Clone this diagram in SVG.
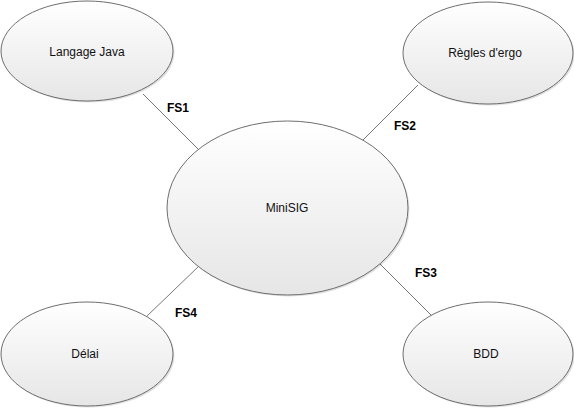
<svg xmlns="http://www.w3.org/2000/svg" width="574" height="409" viewBox="0 0 574 409">
<defs>
<linearGradient id="g" x1="0" y1="0" x2="0" y2="1">
<stop offset="0" stop-color="#ffffff"/>
<stop offset="1" stop-color="#e6e6e6"/>
</linearGradient>
<style>
.n{fill:url(#g);stroke:#6e6e6e;stroke-width:1}
.s{fill:#000;opacity:0.12}
.t{font-family:"Liberation Sans",Arial,sans-serif;font-size:12px;fill:#111;text-anchor:middle}
.c{stroke:#777;stroke-width:1;fill:none}
.l{font-family:"Liberation Sans",Arial,sans-serif;font-size:12px;font-weight:bold;fill:#000;text-anchor:middle}
</style>
</defs>
<rect width="574" height="409" fill="#fff"/>
<g id="connectors">
<line class="c" x1="143" y1="94" x2="198" y2="149"/>
<line class="c" x1="418" y1="85" x2="363" y2="140"/>
<line class="c" x1="378" y1="262" x2="433" y2="317"/>
<line class="c" x1="199" y1="266" x2="146" y2="317"/>
<text class="l" x="178" y="112">FS1</text>
<text class="l" x="405" y="130">FS2</text>
<text class="l" x="426" y="277">FS3</text>
<text class="l" x="186" y="317">FS4</text>
</g>
<g id="node-java">
<ellipse class="s" cx="88.5" cy="52.5" rx="86" ry="50"/>
<ellipse class="n" cx="87" cy="51" rx="86" ry="50"/>
<text class="t" x="87" y="56">Langage Java</text>
</g>
<g id="node-regles">
<ellipse class="s" cx="489.5" cy="54.5" rx="85" ry="51"/>
<ellipse class="n" cx="488" cy="53" rx="85" ry="51"/>
<text class="t" x="485" y="57">Règles d'ergo</text>
</g>
<g id="node-minisig">
<ellipse class="s" cx="289" cy="209.5" rx="120.5" ry="87"/>
<ellipse class="n" cx="287.5" cy="208" rx="120.5" ry="87"/>
<text class="t" x="287" y="212">MiniSIG</text>
</g>
<g id="node-bdd">
<ellipse class="s" cx="489.5" cy="355.5" rx="85" ry="52"/>
<ellipse class="n" cx="488" cy="354" rx="85" ry="52"/>
<text class="t" x="486" y="358">BDD</text>
</g>
<g id="node-delai">
<ellipse class="s" cx="88.5" cy="355.5" rx="86" ry="52"/>
<ellipse class="n" cx="87" cy="354" rx="86" ry="52"/>
<text class="t" x="85" y="358">Délai</text>
</g>
</svg>
